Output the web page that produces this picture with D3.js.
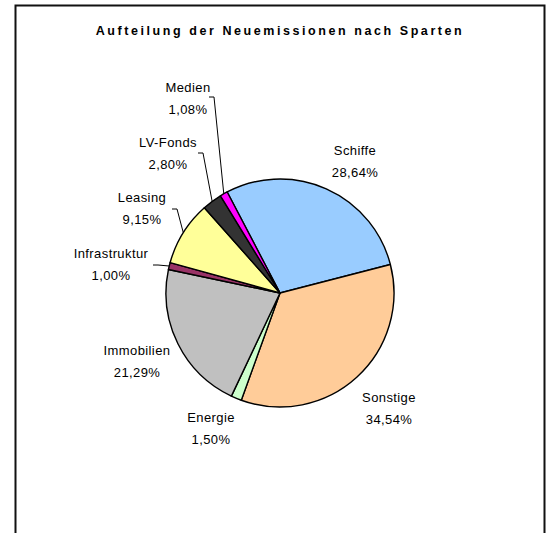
<!DOCTYPE html>
<html>
<head>
<meta charset="utf-8">
<script src="https://cdn.jsdelivr.net/npm/d3@7"></script>
<style>
body { margin: 0; background: #fff; }
text { font-family: "Liberation Sans", Arial, sans-serif; }
</style>
</head>
<body>
<svg id="chart" width="550" height="533"></svg>
<script>
// data
const sparten = ["Schiffe", "Sonstige", "Energie", "Immobilien", "Infrastruktur", "Leasing", "LV-Fonds", "Medien"];
const anteile = [28.64, 34.54, 1.50, 21.29, 1.00, 9.15, 2.80, 1.08];
const anteilText = ["28,64%", "34,54%", "1,50%", "21,29%", "1,00%", "9,15%", "2,80%", "1,08%"];
const farben = ["#99ccff", "#ffcc99", "#ccffcc", "#c0c0c0", "#993366", "#ffff99", "#333333", "#ff00ff"];

// label layout: centre of the name line, and where the leader tick begins (small slices only)
const labelPos = [[355, 150], [389, 397], [211, 417], [137, 350], [111, 253], [142, 197], [168, 142], [188, 87]];
const leaderStart = [null, null, null, null, [153, 265], [172, 209], [198, 153], [209, 97]];

const svg = d3.select("#chart");
const cx = 280, cy = 293, r = 114;

// frame
svg.append("path")
    .attr("d", "M15.5,540 V5.5 H544.5 V540")
    .attr("fill", "none")
    .attr("stroke", "#111")
    .attr("stroke-width", 2);

// title
const title = svg.append("text")
    .attr("x", 280)
    .attr("y", 35)
    .attr("text-anchor", "middle")
    .attr("font-size", "12.5px")
    .attr("font-weight", "bold")
    .text("Aufteilung der Neuemissionen nach Sparten");
const tLen = title.node().getComputedTextLength();
const nChars = title.text().length;
title.attr("letter-spacing", ((366 - tLen) / (nChars - 1)) + "px");

// pie
const startDeg = -27.6;
const pie = d3.pie()
    .sort(null)
    .value(d => d)
    .startAngle(startDeg * Math.PI / 180)
    .endAngle((startDeg + 360) * Math.PI / 180);
const arcs = pie(anteile);
const arc = d3.arc().innerRadius(0).outerRadius(r);

const g = svg.append("g").attr("transform", `translate(${cx},${cy})`);
g.selectAll("path.slice")
    .data(arcs)
    .enter().append("path")
    .attr("class", "slice")
    .attr("d", arc)
    .attr("fill", (d, i) => farben[i])
    .attr("stroke", "#000")
    .attr("stroke-width", 1.4)
    .attr("stroke-linejoin", "round");

// leader lines
const edge = d3.arc().innerRadius(r).outerRadius(r);
arcs.forEach((d, i) => {
    const s = leaderStart[i];
    if (!s) return;
    const p = edge.centroid(d);
    svg.append("polyline")
        .attr("points", [[s[0], s[1]], [s[0] + 5, s[1]], [cx + p[0], cy + p[1]]].map(q => q.join(",")).join(" "))
        .attr("fill", "none")
        .attr("stroke", "#000")
        .attr("stroke-width", 1);
});

// labels
sparten.forEach((name, i) => {
    const [x, y] = labelPos[i];
    const t = svg.append("text")
        .attr("text-anchor", "middle")
        .attr("font-size", "13px")
        .attr("letter-spacing", "0.4px")
        .attr("fill", "#000");
    t.append("tspan").attr("x", x).attr("y", y).attr("dy", "0.35em").text(name);
    t.append("tspan").attr("x", x).attr("y", y + 22).attr("dy", "0.35em").text(anteilText[i]);
});
</script>
</body>
</html>
